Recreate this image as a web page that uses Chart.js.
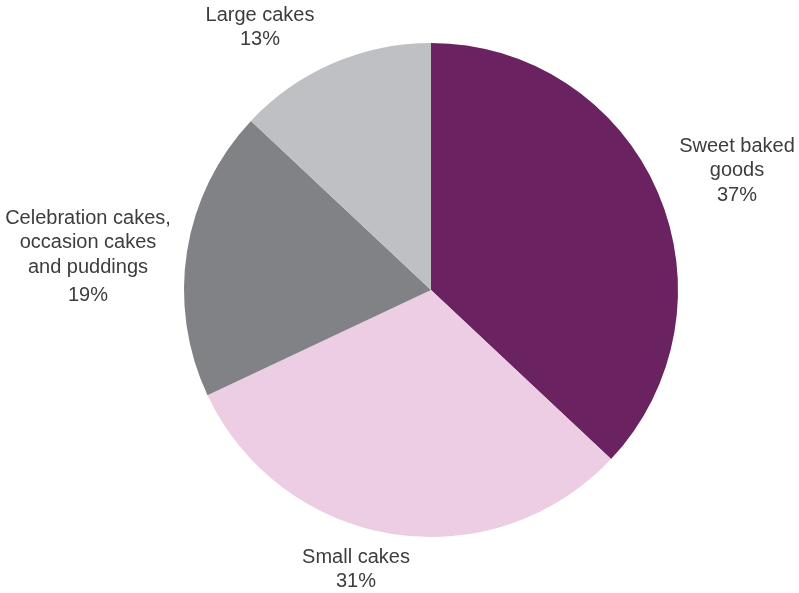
<!DOCTYPE html>
<html>
<head>
<meta charset="utf-8">
<script src="https://cdn.jsdelivr.net/npm/chart.js@4/dist/chart.umd.min.js"></script>
<style>
html,body{margin:0;padding:0;background:#fff;}
#wrap{width:799px;height:593px;position:relative;}
</style>
</head>
<body>
<div id="wrap"><canvas id="c" width="799" height="593"></canvas></div>
<script>
const categories = ["Sweet baked goods", "Small cakes", "Celebration cakes, occasion cakes and puddings", "Large cakes"];
const shares = [37, 31, 19, 13];
const colors = ["#6a2360", "#eccde3", "#818285", "#bfc0c3"];
const labelLines = [
  ["Sweet baked", "goods", "37%"],
  ["Small cakes", "31%"],
  ["Celebration cakes,", "occasion cakes", "and puddings", "19%"],
  ["Large cakes", "13%"]
];
// label first-line offsets relative to pie centre
const labelOffsets = [[306, -144], [-75, 267], [-343, -72], [-171, -275]];

const labelPlugin = {
  id: 'outerLabels',
  afterDraw(chart) {
    const ctx = chart.ctx;
    const meta = chart.getDatasetMeta(0);
    ctx.save();
    ctx.font = '20px "Liberation Sans", Arial, sans-serif';
    ctx.fillStyle = '#3d3d3d';
    ctx.textAlign = 'center';
    ctx.textBaseline = 'middle';
    meta.data.forEach((arc, i) => {
      const [dx, dy] = labelOffsets[i];
      const lines = labelLines[i];
      lines.forEach((t, j) => {
        let y = arc.y + dy + j * 24.5;
        if (i === 2 && j === 3) y += 4;
        ctx.fillText(t, arc.x + dx, y);
      });
    });
    ctx.restore();
  }
};

new Chart(document.getElementById('c'), {
  type: 'pie',
  data: {
    labels: categories,
    datasets: [{
      data: shares,
      backgroundColor: colors,
      borderWidth: 0
    }]
  },
  options: {
    responsive: false,
    animation: false,
    layout: { padding: { top: 43, bottom: 56, left: 184, right: 121 } },
    plugins: { legend: { display: false }, tooltip: { enabled: false } }
  },
  plugins: [labelPlugin]
});
</script>
</body>
</html>
